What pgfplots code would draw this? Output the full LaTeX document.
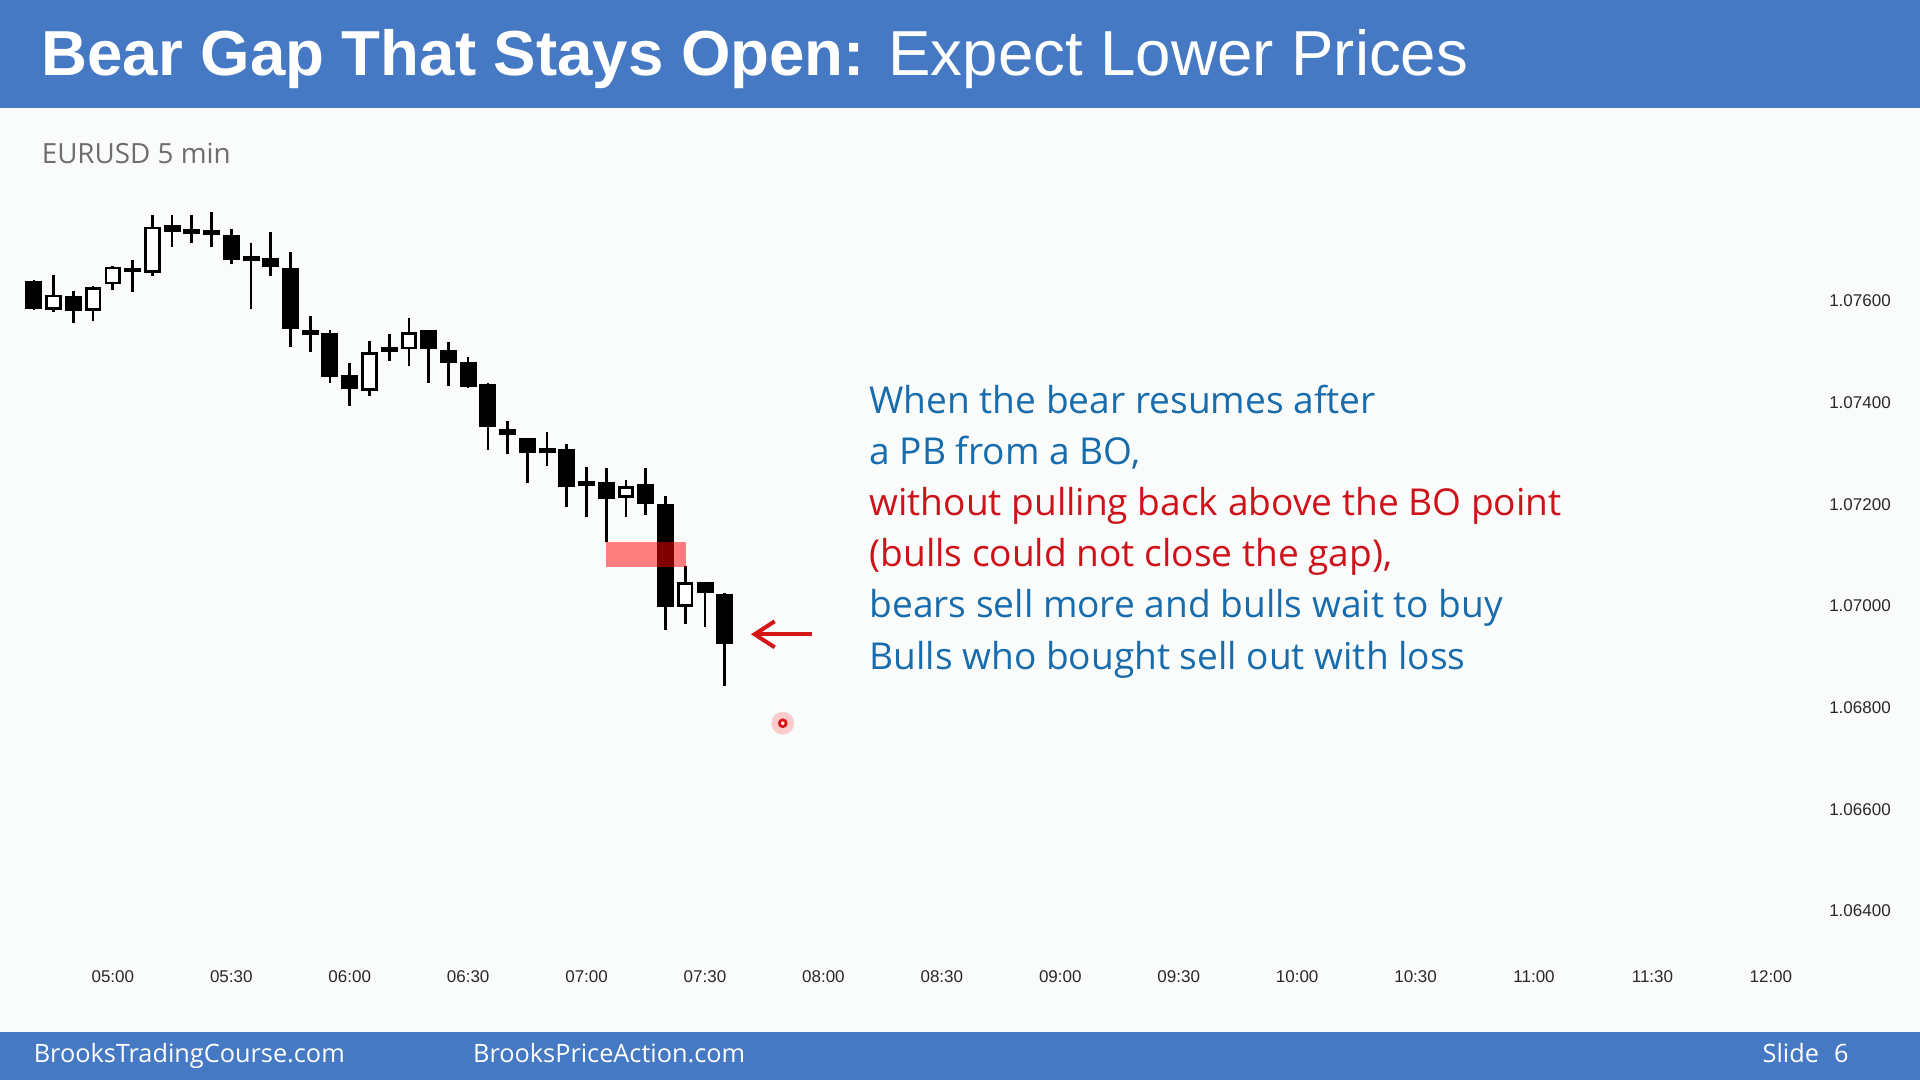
\documentclass[border=0pt]{standalone}
\usepackage{pgfplots}
\pgfplotsset{compat=1.18}
\usepackage{pgfplotstable}
\usepackage{fontspec}
\setmainfont{Liberation Sans}
\newfontfamily\osans{Open Sans}
\usetikzlibrary{arrows.meta}

\definecolor{band}{RGB}{70,121,196}
\definecolor{bg}{RGB}{250,252,252}
\definecolor{txtblue}{RGB}{24,108,172}
\definecolor{txtred}{RGB}{206,18,26}
\definecolor{greytxt}{RGB}{110,110,110}
\definecolor{ticktxt}{RGB}{40,40,40}
\definecolor{arrowred}{RGB}{212,22,22}
\definecolor{halo}{RGB}{250,205,205}
\definecolor{ring}{RGB}{225,20,30}

% bearish candles and dojis (open >= close)
\pgfplotstableread{
x o h l c
0 1.07639 1.07641 1.07582 1.07584
2 1.07610 1.07619 1.07556 1.07581
5 1.07665 1.07680 1.07618 1.07657
7 1.07749 1.07769 1.07705 1.07735
8 1.07741 1.07769 1.07713 1.07731
9 1.07740 1.07774 1.07705 1.07730
10 1.07730 1.07741 1.07672 1.07680
11 1.07689 1.07713 1.07584 1.07679
12 1.07684 1.07735 1.07649 1.07666
13 1.07664 1.07696 1.07510 1.07545
14 1.07542 1.07570 1.07499 1.07532
15 1.07537 1.07543 1.07438 1.07451
16 1.07454 1.07477 1.07394 1.07426
18 1.07510 1.07534 1.07482 1.07500
20 1.07543 1.07543 1.07439 1.07505
21 1.07503 1.07520 1.07433 1.07478
22 1.07480 1.07489 1.07428 1.07430
23 1.07436 1.07438 1.07307 1.07351
24 1.07347 1.07364 1.07298 1.07337
25 1.07331 1.07331 1.07241 1.07300
26 1.07310 1.07342 1.07276 1.07300
27 1.07308 1.07318 1.07195 1.07233
28 1.07245 1.07274 1.07174 1.07235
29 1.07243 1.07271 1.07126 1.07210
31 1.07240 1.07271 1.07179 1.07200
32 1.07200 1.07217 1.06953 1.06998
34 1.07046 1.07046 1.06959 1.07025
35 1.07023 1.07025 1.06842 1.06925
}\blackbars

% bullish candles (close > open)
\pgfplotstableread{
x o h l c
1 1.07582 1.07650 1.07579 1.07612
3 1.07580 1.07629 1.07561 1.07627
4 1.07633 1.07669 1.07621 1.07667
6 1.07655 1.07769 1.07649 1.07746
17 1.07423 1.07522 1.07412 1.07499
19 1.07505 1.07566 1.07471 1.07538
30 1.07213 1.07248 1.07174 1.07235
33 1.06998 1.07078 1.06964 1.07046
}\whitebars

\pgfplotsset{candle/.style={only marks, mark=none, mark options={draw=none, fill=none}, mark size=0pt,
  error bars/.cd, y dir=plus, y explicit, error mark=none}}

\begin{document}
\begin{tikzpicture}
\fill[bg] (0pt,0pt) rectangle (960pt,-540pt);
\fill[band] (0pt,0pt) rectangle (960pt,-54pt);
\fill[band] (0pt,-515.9pt) rectangle (960pt,-540pt);

\node[anchor=base west, inner sep=0, text=white, font=\fontsize{31.8}{38}\selectfont]
  at (20.5pt,-38pt) {\textbf{Bear Gap That Stays Open:} Expect Lower Prices};
\node[anchor=base west, inner sep=0, text=greytxt, font=\osans\fontsize{13.9}{16}\selectfont]
  at (20.6pt,-81.7pt) {EURUSD 5 min};

\node[anchor=base west, inner sep=0, text=white, font=\osans\fontsize{12.65}{15}\selectfont]
  at (16.6pt,-531.2pt) {BrooksTradingCourse.com};
\node[anchor=base west, inner sep=0, text=white, font=\osans\fontsize{12.65}{15}\selectfont]
  at (236.3pt,-531.2pt) {BrooksPriceAction.com};
\node[anchor=base east, inner sep=0, text=white, font=\osans\fontsize{12.65}{15}\selectfont]
  at (924.5pt,-531.2pt) {Slide\hspace{0.6em}6};

\begin{scope}[every node/.style={anchor=base west, inner sep=0, font=\osans\fontsize{18.55}{22}\selectfont}]
\node[text=txtblue] at (434.5pt,-206.6pt) {When the bear resumes after};
\node[text=txtblue] at (434.5pt,-232.2pt) {a PB from a BO,};
\node[text=txtred] at (434.5pt,-257.8pt) {without pulling back above the BO point};
\node[text=txtred] at (434.5pt,-283.4pt) {(bulls could not close the gap),};
\node[text=txtblue] at (434.5pt,-309pt) {bears sell more and bulls wait to buy};
\node[text=txtblue] at (434.5pt,-334.6pt) {Bulls who bought sell out with loss};
\end{scope}

\begin{axis}[
  at={(0pt,-480.865pt)}, anchor=south west,
  scale only axis, width=910.1pt, height=381.25pt,
  xmin=-1.707, xmax=90.5, ymin=1.063, ymax=1.078,
  axis line style={draw=none}, major tick length=0pt,
  clip=false,
  xtick={4,10,16,22,28,34,40,46,52,58,64,70,76,82,88},
  xticklabels={05:00,05:30,06:00,06:30,07:00,07:30,08:00,08:30,09:00,09:30,10:00,10:30,11:00,11:30,12:00},
  ytick={1.064,1.066,1.068,1.070,1.072,1.074,1.076},
  yticklabels={1.06400,1.06600,1.06800,1.07000,1.07200,1.07400,1.07600},
  yticklabel pos=right,
  tick label style={font=\fontsize{8.5}{10}\selectfont, text=ticktxt},
  xticklabel style={yshift=-0.75pt},
  yticklabel style={xshift=1pt},
]
% wicks
\addplot[candle, error bar style={draw=black, line width=1.35pt}]
  table[x=x, y=l, y error plus expr=\thisrow{h}-\thisrow{l}] {\blackbars};
\addplot[candle, error bar style={draw=black, line width=1.35pt}]
  table[x=x, y=l, y error plus expr=\thisrow{h}-\thisrow{l}] {\whitebars};
% black bodies
\addplot[candle, error bar style={draw=black, line width=8.5pt}]
  table[x=x, y=c, y error plus expr=\thisrow{o}-\thisrow{c}] {\blackbars};
% white bodies: outline then interior
\addplot[candle, error bar style={draw=black, line width=8.2pt}]
  table[x=x, y=o, y error plus expr=\thisrow{c}-\thisrow{o}] {\whitebars};
\addplot[candle, error bar style={draw=white, line width=5.4pt}]
  table[x=x, y expr=\thisrow{o}+0.00005, y error plus expr=\thisrow{c}-\thisrow{o}-0.0001] {\whitebars};
% gap highlight
\addplot[draw=none, fill=red, fill opacity=0.5] coordinates {(29,1.07125) (33.05,1.07125) (33.05,1.07077) (29,1.07077)} -- cycle;
% arrow
\addplot[arrowred, line width=2pt, -{Straight Barb[length=10pt, width=13pt, line width=2pt]}] coordinates {(39.41,1.06944) (36.33,1.06944)};
% pointer dot
\addplot[only marks, mark=*, mark size=5.5pt, mark options={draw=halo, fill=halo}] coordinates {(37.94,1.06769)};
\addplot[only marks, mark=*, mark size=1.7pt, mark options={draw=ring, line width=1.4pt, fill=white}] coordinates {(37.94,1.06769)};
\end{axis}
\end{tikzpicture}
\end{document}
